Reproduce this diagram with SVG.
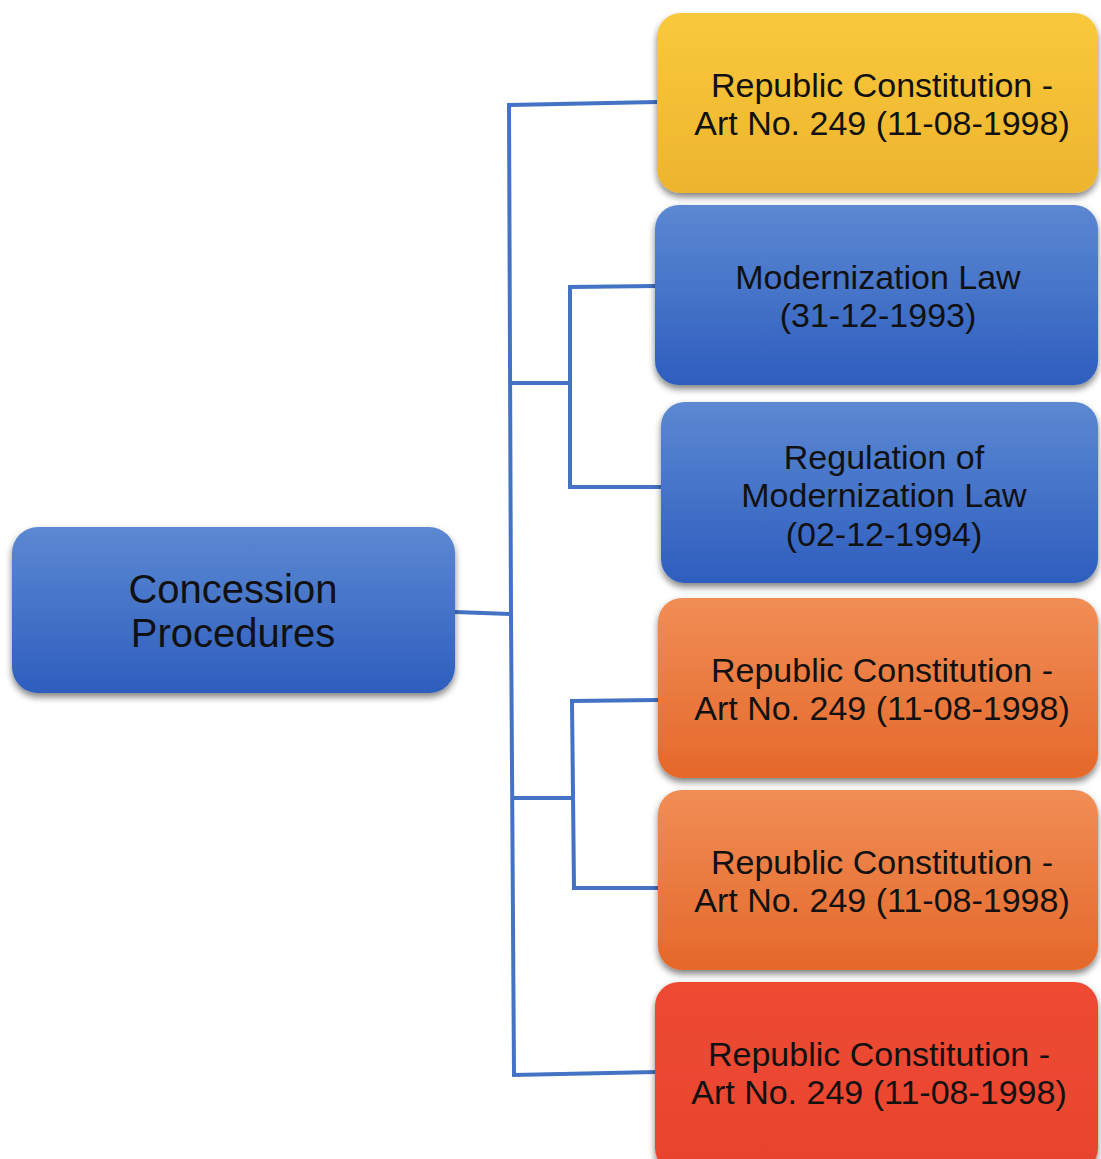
<svg xmlns="http://www.w3.org/2000/svg" width="1101" height="1159" viewBox="0 0 1101 1159">
<defs>
<linearGradient id="gBlue" x1="0" y1="0" x2="0" y2="1"><stop offset="0" stop-color="#5C88D2"/><stop offset="1" stop-color="#2E5EBE"/></linearGradient>
<linearGradient id="gYellow" x1="0" y1="0" x2="0" y2="1"><stop offset="0" stop-color="#F9C93C"/><stop offset="1" stop-color="#EDB42E"/></linearGradient>
<linearGradient id="gOrange" x1="0" y1="0" x2="0" y2="1"><stop offset="0" stop-color="#F08E56"/><stop offset="1" stop-color="#E5682A"/></linearGradient>
<linearGradient id="gRed" x1="0" y1="0" x2="0" y2="1"><stop offset="0" stop-color="#EE4B33"/><stop offset="1" stop-color="#E8432D"/></linearGradient>
<filter id="sh" x="-10%" y="-10%" width="120%" height="130%">
<feGaussianBlur in="SourceAlpha" stdDeviation="3.5"/>
<feOffset dx="0" dy="4" result="b"/>
<feComponentTransfer><feFuncA type="linear" slope="0.5"/></feComponentTransfer>
<feMerge><feMergeNode/><feMergeNode in="SourceGraphic"/></feMerge>
</filter>
</defs>
<style>
.box{filter:url(#sh);}
.t{font-family:"Liberation Sans",Arial,sans-serif;font-size:34px;fill:#111;text-anchor:middle;}
.tr{font-family:"Liberation Sans",Arial,sans-serif;font-size:40px;fill:#111;text-anchor:middle;}
.c{fill:none;stroke:#4472C4;stroke-width:4;stroke-linejoin:miter;}
</style>
<g id="connectors">
<path class="c" d="M455,612 L511,614"/>
<path class="c" d="M657,102 L509,105 L511,614 L514,1075 L656,1072"/>
<path class="c" d="M510,383 L570,383"/>
<path class="c" d="M656,286 L570,287 L570,487 L662,487"/>
<path class="c" d="M512,798 L572,798"/>
<path class="c" d="M658,700 L572,701 L574,888 L658,888"/>
</g>
<g id="root">
<rect class="box" x="12" y="527" width="443" height="166" rx="26" fill="url(#gBlue)"/>
<text class="tr" x="233" y="603">Concession</text>
<text class="tr" x="233" y="647">Procedures</text>
</g>
<g id="n1">
<rect class="box" x="657" y="13" width="441" height="180" rx="24" fill="url(#gYellow)"/>
<text class="t" x="882" y="97">Republic Constitution -</text>
<text class="t" x="882" y="135">Art No. 249 (11-08-1998)</text>
</g>
<g id="n2">
<rect class="box" x="655" y="205" width="443" height="180" rx="24" fill="url(#gBlue)"/>
<text class="t" x="878" y="289">Modernization Law</text>
<text class="t" x="878" y="327">(31-12-1993)</text>
</g>
<g id="n3">
<rect class="box" x="661" y="402" width="437" height="181" rx="24" fill="url(#gBlue)"/>
<text class="t" x="884" y="469">Regulation of</text>
<text class="t" x="884" y="507">Modernization Law</text>
<text class="t" x="884" y="546">(02-12-1994)</text>
</g>
<g id="n4">
<rect class="box" x="658" y="598" width="440" height="180" rx="24" fill="url(#gOrange)"/>
<text class="t" x="882" y="682">Republic Constitution -</text>
<text class="t" x="882" y="720">Art No. 249 (11-08-1998)</text>
</g>
<g id="n5">
<rect class="box" x="658" y="790" width="440" height="180" rx="24" fill="url(#gOrange)"/>
<text class="t" x="882" y="874">Republic Constitution -</text>
<text class="t" x="882" y="912">Art No. 249 (11-08-1998)</text>
</g>
<g id="n6">
<rect class="box" x="655" y="982" width="443" height="190" rx="24" fill="url(#gRed)"/>
<text class="t" x="879" y="1066">Republic Constitution -</text>
<text class="t" x="879" y="1104">Art No. 249 (11-08-1998)</text>
</g>
</svg>
